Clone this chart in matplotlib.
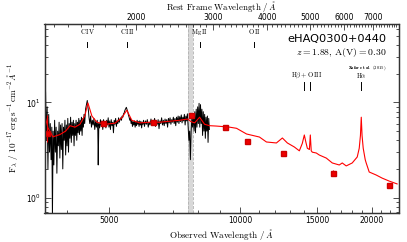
import numpy as np
import matplotlib
matplotlib.use("Agg")
import matplotlib.pyplot as plt
from matplotlib.ticker import FixedLocator, FixedFormatter, NullFormatter, LogLocator, LogFormatterMathtext
import matplotlib.transforms as mtransforms

z = 1.88

# Observed spectrum (black)
spec_wave = [3565, 3580, 3595, 3610, 3625, 3640, 3655, 3670, 3685, 3700, 3712, 3725, 3740, 3755,
             3770, 3785, 3800, 3815, 3830, 3845, 3860, 3875, 3890, 3905, 3920, 3935, 3950, 3965,
             3980, 3995, 4010, 4025, 4040, 4055, 4070, 4085, 4100, 4115, 4130, 4145, 4160, 4175,
             4190, 4205, 4220, 4235, 4250, 4265, 4280, 4295, 4310, 4325, 4340, 4355, 4370, 4385,
             4400, 4420, 4440, 4460, 4475, 4490, 4500, 4520, 4540, 4560, 4580, 4600, 4620, 4640,
             4660, 4680, 4700, 4715, 4725, 4740, 4760, 4780, 4800, 4820, 4840, 4860, 4880, 4900,
             4920, 4940, 4960, 4980, 5000, 5020, 5040, 5060, 5080, 5100, 5120, 5140, 5160, 5180,
             5200, 5220, 5240, 5260, 5280, 5300, 5320, 5340, 5360, 5380, 5400, 5420, 5440, 5460,
             5480, 5500, 5520, 5540, 5560, 5580, 5600, 5620, 5640, 5660, 5680, 5700, 5720, 5740,
             5760, 5780, 5800, 5820, 5840, 5860, 5880, 5900, 5920, 5940, 5960, 5980, 6000, 6030,
             6060, 6090, 6120, 6150, 6180, 6210, 6240, 6270, 6300, 6330, 6360, 6390, 6420, 6450,
             6480, 6510, 6540, 6570, 6600, 6630, 6660, 6690, 6720, 6750, 6780, 6810, 6840, 6870,
             6900, 6930, 6960, 6990, 7020, 7050, 7080, 7110, 7140, 7170, 7200, 7230, 7260, 7290,
             7320, 7350, 7380, 7410, 7440, 7470, 7500, 7530, 7560, 7590, 7620, 7650, 7680, 7710,
             7740, 7770, 7800, 7830, 7860, 7890, 7920, 7950, 7980, 8010, 8040, 8070, 8100, 8130,
             8160, 8190, 8220, 8250, 8280, 8310, 8340, 8370, 8400, 8430, 8460, 8490]
spec_flux = [8.0, 13.0, 4.0, 9.0, 2.0, 7.5, 3.0, 6.0, 2.5, 5.5, 0.6, 5.0, 2.2, 6.5,
             3.0, 5.5, 1.8, 5.0, 3.5, 6.2, 2.6, 5.8, 3.2, 6.0, 2.0, 5.5, 4.0, 6.5,
             2.8, 5.8, 3.5, 6.8, 3.0, 6.0, 4.2, 7.0, 3.8, 6.2, 4.5, 6.5, 3.5, 6.0,
             4.5, 6.5, 4.0, 6.2, 4.8, 6.8, 4.6, 6.5, 5.0, 7.0, 4.5, 6.8, 5.5, 7.5,
             6.0, 8.5, 9.5, 10.5, 9.0, 8.0, 7.0, 6.0, 7.2, 5.5, 6.5, 5.8, 6.8, 5.2,
             6.3, 5.5, 6.5, 5.0, 2.2, 6.0, 5.4, 6.6, 5.6, 6.4, 5.2, 6.6, 5.6, 6.3,
             5.4, 6.5, 5.8, 6.9, 5.5, 6.4, 5.2, 6.6, 5.7, 6.2, 4.8, 6.5, 5.9, 6.8,
             5.6, 6.4, 6.0, 6.9, 6.2, 6.6, 6.9, 6.5, 7.2, 7.0, 7.6, 7.8, 8.3, 8.6,
             8.9, 8.4, 8.0, 7.4, 7.0, 6.5, 6.8, 6.0, 6.5, 5.6, 6.3, 5.8, 6.4, 5.5,
             6.2, 5.7, 6.5, 5.9, 6.3, 5.6, 6.4, 5.8, 6.3, 5.4, 6.2, 5.9, 6.5, 5.6,
             6.4, 5.9, 6.6, 5.5, 6.2, 5.8, 6.7, 5.7, 6.4, 5.9, 6.8, 5.6, 6.3, 5.9,
             6.6, 5.3, 6.4, 6.0, 6.9, 5.8, 6.5, 5.7, 6.7, 6.0, 6.6, 5.5, 6.8, 6.1,
             6.9, 5.9, 6.6, 6.2, 7.0, 6.0, 6.8, 5.7, 7.0, 6.2, 7.2, 6.0, 7.1, 6.3,
             7.4, 6.1, 7.0, 6.4, 7.5, 5.8, 7.2, 6.4, 7.6, 5.5, 4.0, 5.0, 2.5, 5.0,
             6.8, 5.5, 7.5, 5.0, 8.0, 4.8, 8.5, 5.5, 9.0, 6.0, 9.8, 5.5, 9.5, 6.0,
             8.5, 4.5, 8.0, 5.0, 7.5, 4.2, 7.0, 5.0, 7.2, 3.8, 6.8, 5.2]

# Model spectrum (red)
model_wave = [3564, 3626, 3723, 3862, 3980, 4072, 4180, 4291, 4405, 4475, 4570, 4692, 4894,
              5158, 5351, 5493, 5640, 5881, 6199, 6533, 6885, 7258, 7569, 7700, 7853, 8062,
              8276, 8497, 8800, 9197, 9441, 9795, 10326, 11052, 11467, 12085, 12472, 12804,
              13285, 13638, 13850, 14001, 14120, 14225, 14380, 14450, 14520, 14603, 14913,
              15151, 15720, 16224, 16832, 17099, 17461, 18021, 18504, 18700, 18820, 18901,
              18980, 19097, 19300, 19399, 19709, 20446, 21101, 21892, 22832]
model_flux = [7.4, 5.4, 4.35, 4.6, 5.0, 5.7, 5.5, 5.9, 7.3, 9.9, 7.2, 6.2, 5.9,
              6.05, 6.9, 8.3, 6.5, 6.1, 6.2, 6.2, 6.35, 6.5, 6.7, 6.3, 6.1, 7.0,
              5.9, 5.7, 5.65, 5.56, 5.5, 5.35, 4.66, 4.33, 3.84, 3.75, 4.23, 3.75,
              3.4, 3.1, 3.7, 4.55, 3.8, 3.3, 3.2, 4.55, 3.1, 3.0, 2.94,
              2.8, 2.6, 2.31, 2.2, 2.31, 2.15, 2.31, 2.67, 3.3, 4.5, 7.0,
              4.5, 3.3, 2.5, 2.31, 1.855, 1.725, 1.6, 1.49, 1.39]

# Photometry (red squares)
phot_wave = [3601, 4834, 6307, 7690, 9197, 10330, 12496, 16307, 21890]
phot_flux = [4.81, 6.04, 6.16, 7.38, 5.56, 3.93, 2.92, 1.82, 1.35]
phot_err_lo = [0.97, 0.15, 0.12, 0.2, 0.15, 0.12, 0.12, 0.15, 0.08]
phot_err_hi = [2.6, 0.15, 0.12, 0.2, 0.15, 0.12, 0.12, 0.15, 0.08]

# Emission line markers (rest frame)
lines_upper = [("C\\,IV", 1549), ("C\\,III", 1909), ("Mg\\,II", 2800), ("O\\,II", 3727)]
lines_lower = [4861, 5007, 6563]

telluric = (7585, 7770)
top_ticks = [2000, 3000, 4000, 5000, 6000, 7000]
bottom_ticks = [5000, 10000, 15000, 20000]

xlim = (3560, 23000)
ylim = (0.687, 67)

W, H = 407, 242
fig = plt.figure(figsize=(W/100, H/100), dpi=100)
ax = fig.add_axes([44.5/W, 1-213/H, 354/W, 189/H])
ax.set_xscale('log')
ax.set_yscale('log')

ax.axvspan(*telluric, color='#d8d8d8', zorder=1, lw=0)
for t in telluric:
    ax.axvline(t, color='#b0b0b0', ls='--', lw=0.6, zorder=1)

ax.plot(spec_wave, spec_flux, color='black', lw=0.7, zorder=2)
ax.plot(model_wave, model_flux, color='#ff0000', lw=0.8, zorder=3)
ax.errorbar(phot_wave, phot_flux, yerr=[phot_err_lo, phot_err_hi], fmt='s', color='#ee0000',
            mec='#cc0000', ms=3.6, elinewidth=0.8, capsize=0, zorder=4)

ax.set_xlim(*xlim)
ax.set_ylim(*ylim)

spine_col = '#333333'
for s in ax.spines.values():
    s.set_color(spine_col)
    s.set_linewidth(0.9)

ax.xaxis.set_major_locator(FixedLocator(bottom_ticks))
ax.xaxis.set_minor_locator(FixedLocator(list(range(4000, 23000, 1000))))
ax.xaxis.set_major_formatter(FixedFormatter([str(t) for t in bottom_ticks]))
ax.xaxis.set_minor_formatter(NullFormatter())
ax.yaxis.set_major_locator(LogLocator(base=10))
ax.yaxis.set_minor_locator(LogLocator(base=10, subs=np.arange(2, 10)))
ax.yaxis.set_major_formatter(LogFormatterMathtext())
ax.yaxis.set_minor_formatter(NullFormatter())
ax.tick_params(which='both', direction='in', right=True, top=False, colors=spine_col,
               labelsize=5.5, labelcolor='black', width=0.6)
ax.tick_params(which='major', length=4, pad=2.5)
ax.tick_params(which='minor', length=2)

ax2 = ax.twiny()
ax2.set_xscale('log')
ax2.set_xlim(xlim[0]/(1+z), xlim[1]/(1+z))
ax2.xaxis.set_major_locator(FixedLocator(top_ticks))
ax2.xaxis.set_minor_locator(FixedLocator(list(range(1300, 8000, 100))))
ax2.xaxis.set_major_formatter(FixedFormatter([str(t) for t in top_ticks]))
ax2.xaxis.set_minor_formatter(NullFormatter())
ax2.tick_params(which='both', direction='in', colors=spine_col, labelsize=5.5,
                labelcolor='black', width=0.6)
ax2.tick_params(which='major', length=4, pad=1.5)
ax2.tick_params(which='minor', length=2)
for s in ax2.spines.values():
    s.set_color(spine_col)
    s.set_linewidth(0.9)

xc = (44.5 + 177) / W
t = fig.text(xc, 1 - 234.5/H, r'$\mathrm{Observed\ Wavelength}\ /\ \AA$', fontsize=6.6,
             ha='center', va='center')
t.set_math_fontfamily('cm')
t = fig.text(xc, 1 - 6.5/H, r'$\mathrm{Rest\ Frame\ Wavelength}\ /\ \AA$', fontsize=6.4,
             ha='center', va='center')
t.set_math_fontfamily('cm')
t = fig.text(13/W, 1 - 118/H,
             r'$\mathrm{F}_\lambda\ /\ 10^{-17}\,\mathrm{erg\,s}^{-1}\,\mathrm{cm}^{-2}\,\AA^{-1}$',
             fontsize=6.6, ha='center', va='center', rotation=90)
t.set_math_fontfamily('cm')

trans = mtransforms.blended_transform_factory(ax.transData, ax.transAxes)
for name, rest in lines_upper:
    xo = rest*(1+z)
    t = ax.text(xo, 0.958, r'$\mathrm{' + name + '}$', transform=trans, ha='center', va='center',
                fontsize=4.8)
    t.set_math_fontfamily('cm')
    ax.plot([xo, xo], [0.878, 0.905], transform=trans, color='black', lw=0.7)
for rest in lines_lower:
    xo = rest*(1+z)
    ax.plot([xo, xo], [0.651, 0.693], transform=trans, color='black', lw=0.7)
t = ax.text(np.sqrt(lines_lower[0]*lines_lower[1])*(1+z), 0.725, r'$\mathrm{H}\beta + \mathrm{O\,III}$',
            transform=trans, ha='center', va='center', fontsize=4.8)
t.set_math_fontfamily('cm')
t = ax.text(lines_lower[2]*(1+z), 0.725, r'$\mathrm{H}\alpha$', transform=trans, ha='center',
            va='center', fontsize=4.8)
t.set_math_fontfamily('cm')

ax.text(0.966, 0.92, 'eHAQ0300+0440', transform=ax.transAxes, ha='right', va='center',
        fontsize=8.2)
t = ax.text(0.966, 0.847, r'$z = 1.88,\,\mathrm{A(V)} = 0.30$', transform=ax.transAxes,
            ha='right', va='center', fontsize=7)
t.set_math_fontfamily('cm')
t = ax.text(0.966, 0.772, r'$\mathbf{Zafar\ et\ al.\ (2015)}$', transform=ax.transAxes,
            ha='right', va='center', fontsize=3.3)
t.set_math_fontfamily('cm')

fig.savefig('out.png', dpi=100)
